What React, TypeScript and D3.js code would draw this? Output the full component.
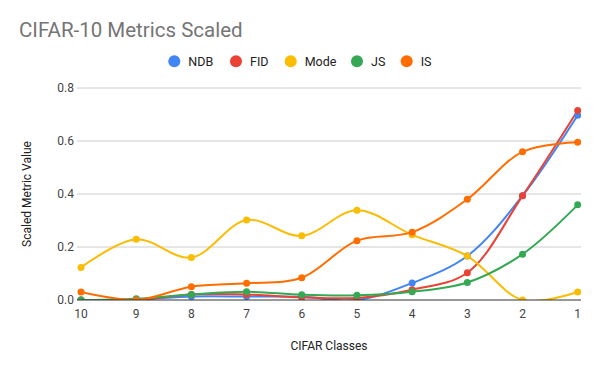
import React from "react";
import * as d3 from "d3";

// CIFAR class counts along the x axis
const classes = ["10", "9", "8", "7", "6", "5", "4", "3", "2", "1"];

const ndb = [0, 0.002, 0.013, 0.013, 0.012, 0.0, 0.064, 0.166, 0.393, 0.697];
const fid = [0, 0, 0.021, 0.021, 0.01, 0.008, 0.039, 0.103, 0.393, 0.715];
const mode = [0.123, 0.229, 0.16, 0.302, 0.242, 0.339, 0.246, 0.166, 0, 0.03];
const js = [0, 0.005, 0.021, 0.031, 0.02, 0.018, 0.031, 0.066, 0.173, 0.359];
const is = [0.03, 0, 0.05, 0.063, 0.084, 0.224, 0.256, 0.38, 0.559, 0.595];

const yTicks = [0, 0.2, 0.4, 0.6, 0.8];

const series = [
  { name: "NDB", values: ndb, color: "#4285F4" },
  { name: "FID", values: fid, color: "#EA4335" },
  { name: "Mode", values: mode, color: "#FBBC04" },
  { name: "JS", values: js, color: "#34A853" },
  { name: "IS", values: is, color: "#FF6D01" },
];

const W = 600;
const H = 371;
const plot = { left: 77, right: 581, top: 88, bottom: 300 };
const font = "Roboto, Arial, sans-serif";

export default function App() {
  const x = d3
    .scalePoint<string>()
    .domain(classes)
    .range([81, 577.7]);
  const y = d3.scaleLinear().domain([0, 0.8]).range([plot.bottom, plot.top]);

  const line = d3
    .line<number>()
    .x((_, i) => x(classes[i]) as number)
    .y((d) => y(d))
    .curve(d3.curveCatmullRom.alpha(0.5));

  // legend layout (centered row)
  const legendX = [174.3, 236, 290.7, 357, 406.7];

  return (
    <svg
      width={W}
      height={H}
      style={{ position: "absolute", left: 0, top: 0, background: "#fff" }}
      fontFamily={font}
    >
      <defs>
        <clipPath id="plot-clip">
          <rect x={plot.left} y={40} width={plot.right - plot.left} height={plot.bottom - 40} />
        </clipPath>
      </defs>
      <rect width={W} height={H} fill="#fff" />

      <text x={19} y={37} fontSize={20.5} fill="#757575">
        CIFAR-10 Metrics Scaled
      </text>

      {/* legend */}
      {series.map((s, i) => (
        <g key={s.name}>
          <circle cx={legendX[i]} cy={61.3} r={6} fill={s.color} />
          <text x={legendX[i] + 14} y={65.5} fontSize={12.5} fill="#222">
            {s.name}
          </text>
        </g>
      ))}

      {/* gridlines + y ticks */}
      {yTicks.map((t) => (
        <g key={t}>
          {t > 0 && (
            <line x1={plot.left} x2={plot.right} y1={y(t)} y2={y(t)} stroke="#cccccc" strokeWidth={1} />
          )}
          <text x={74} y={y(t) + 4.3} fontSize={12} fill="#444" textAnchor="end">
            {t.toFixed(1)}
          </text>
        </g>
      ))}

      {/* x ticks */}
      {classes.map((c) => (
        <text key={c} x={x(c)} y={317.5} fontSize={12} fill="#444" textAnchor="middle">
          {c}
        </text>
      ))}

      {/* series */}
      <g clipPath="url(#plot-clip)">
        {series.map((s) => (
          <path key={s.name} d={line(s.values) || ""} fill="none" stroke={s.color} strokeWidth={2} />
        ))}
        {series.map((s) =>
          s.values.map((v, i) => (
            <circle key={s.name + i} cx={x(classes[i])} cy={y(v)} r={3.5} fill={s.color} />
          ))
        )}
      </g>

      {/* baseline */}
      <line x1={plot.left} x2={plot.right} y1={y(0)} y2={y(0)} stroke="#333" strokeWidth={1} />

      <text x={(plot.left + plot.right) / 2} y={349.5} fontSize={12} fill="#222" textAnchor="middle">
        CIFAR Classes
      </text>
      <text
        transform={`translate(${31}, ${(plot.top + plot.bottom) / 2}) rotate(-90)`}
        fontSize={12}
        fill="#222"
        textAnchor="middle"
      >
        Scaled Metric Value
      </text>
    </svg>
  );
}
